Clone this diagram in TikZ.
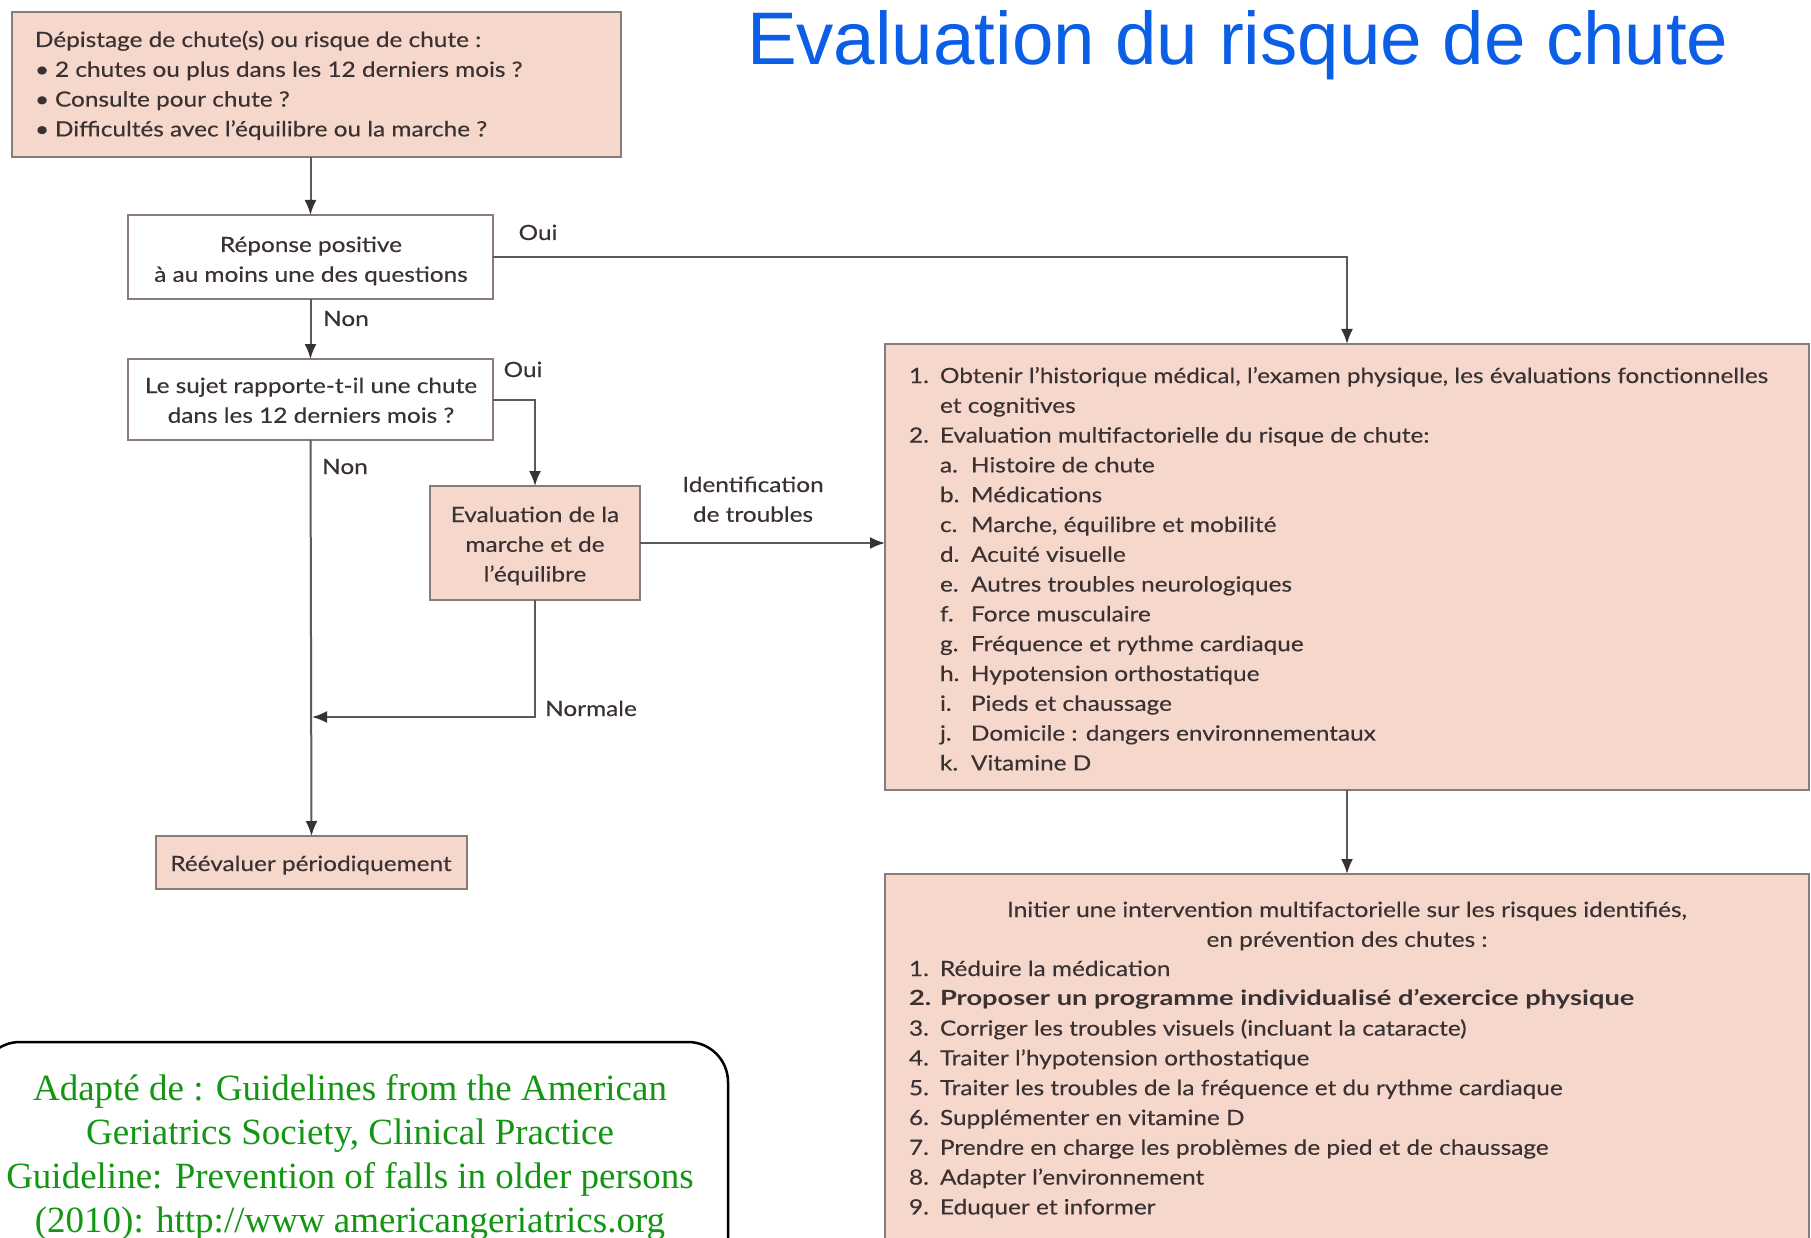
\documentclass[tikz,border=0pt]{standalone}
\usepackage{fontspec}
\setmainfont{Lato}
\newfontfamily\titlefont{Liberation Sans}
\newfontfamily\reffont{Liberation Serif}
\newfontfamily\boxfont[FakeStretch=1.16,FakeBold=0.3]{Lato}
\newfontfamily\boxboldfont[FakeStretch=1.30]{Lato}
\usetikzlibrary{arrows.meta}
\definecolor{boxfill}{HTML}{F6D7CC}
\definecolor{boxdraw}{HTML}{8A7B79}
\definecolor{txtc}{HTML}{3A3232}
\definecolor{linec}{HTML}{5A5A5A}
\definecolor{titleblue}{HTML}{0A5FE6}
\definecolor{refgreen}{HTML}{149614}
\newcommand{\lab}[2]{\makebox[#1pt][l]{#2}}
\begin{document}
\begin{tikzpicture}[x=1pt,y=-1pt,
  every node/.style={inner sep=0pt, outer sep=0pt},
  pbox/.style={draw=boxdraw, line width=2.5pt, fill=boxfill, rectangle},
  wbox/.style={draw=boxdraw, line width=2.5pt, fill=white, rectangle},
  btxt/.style={font=\boxfont\fontsize{21}{29.8}\selectfont, text=txtc},
  lbl/.style={font=\boxfont\fontsize{21}{29.8}\selectfont, text=txtc, anchor=base},
  arr/.style={draw=linec, line width=2pt, -{Latex[length=15pt,width=12pt,color=txtc]}},
  conn/.style={draw=linec, line width=2pt}]
\useasboundingbox (0,0) rectangle (1811,1238);
\clip (0,0) rectangle (1811,1238);
\fill[white] (0,0) rectangle (1811,1238);

% title
\node[font=\titlefont\fontsize{74.5}{80}\selectfont, text=titleblue, anchor=base west] (title) at (747,65) {Evaluation du risque de chute};

% boxes
\node[pbox, minimum width=609pt, minimum height=145pt] (b1) at (316.5,84.5) {};
\node[wbox, minimum width=365pt, minimum height=84pt] (b2) at (310.5,257) {};
\node[wbox, minimum width=365pt, minimum height=81pt] (b3) at (310.5,399.5) {};
\node[pbox, minimum width=210pt, minimum height=114pt] (ev) at (535,543) {};
\node[pbox, minimum width=311pt, minimum height=53pt] (re) at (311.5,862.5) {};
\node[pbox, minimum width=924pt, minimum height=446pt] (b4) at (1347,567) {};
\node[pbox, minimum width=924pt, minimum height=380pt] (b5) at (1347,1064) {};

% texts (anchor = baseline of the last line)
\node[btxt, align=left, anchor=base west] (b1t) at (35,136.4) {%
Dépistage de chute(s) ou risque de chute :\\
\lab{20}{•}2 chutes ou plus dans les 12 derniers mois ?\\
\lab{20}{•}Consulte pour chute ?\\
\lab{20}{•}Difficultés avec l’équilibre ou la marche ?};
\node[btxt, align=center, anchor=base] (b2t) at (311,281.8) {Réponse positive\\à au moins une des questions};
\node[btxt, align=center, anchor=base] (b3t) at (311,422.8) {Le sujet rapporte-t-il une chute\\dans les 12 derniers mois ?};
\node[btxt, align=center, anchor=base] (evt) at (535,581.6) {Evaluation de la\\marche et de\\l’équilibre};
\node[btxt, anchor=base] (ret) at (311,871) {Réévaluer périodiquement};
\node[btxt, align=center, anchor=base] (idt) at (753,521.8) {Identification\\de troubles};

\node[btxt, align=left, anchor=base west] (b4t) at (909,770.4) {%
\lab{31}{1.}Obtenir l’historique médical, l’examen physique, les évaluations fonctionnelles\\
\lab{31}{}et cognitives\\
\lab{31}{2.}Evaluation multifactorielle du risque de chute:\\
\lab{31}{}\lab{31}{a.}Histoire de chute\\
\lab{31}{}\lab{31}{b.}Médications\\
\lab{31}{}\lab{31}{c.}Marche, équilibre et mobilité\\
\lab{31}{}\lab{31}{d.}Acuité visuelle\\
\lab{31}{}\lab{31}{e.}Autres troubles neurologiques\\
\lab{31}{}\lab{31}{f.}Force musculaire\\
\lab{31}{}\lab{31}{g.}Fréquence et rythme cardiaque\\
\lab{31}{}\lab{31}{h.}Hypotension orthostatique\\
\lab{31}{}\lab{31}{i.}Pieds et chaussage\\
\lab{31}{}\lab{31}{j.}Domicile : dangers environnementaux\\
\lab{31}{}\lab{31}{k.}Vitamine D};

\node[btxt, align=center, anchor=base] (b5h) at (1347,946.8) {Initier une intervention multifactorielle sur les risques identifiés,\\en prévention des chutes :};
\node[btxt, align=left, anchor=base west] (b5t) at (909,1214.4) {%
\lab{31}{1.}Réduire la médication\\
{\boxboldfont\bfseries\lab{31}{2.}Proposer un programme individualisé d’exercice physique}\\
\lab{31}{3.}Corriger les troubles visuels (incluant la cataracte)\\
\lab{31}{4.}Traiter l’hypotension orthostatique\\
\lab{31}{5.}Traiter les troubles de la fréquence et du rythme cardiaque\\
\lab{31}{6.}Supplémenter en vitamine D\\
\lab{31}{7.}Prendre en charge les problèmes de pied et de chaussage\\
\lab{31}{8.}Adapter l’environnement\\
\lab{31}{9.}Eduquer et informer};

% labels
\node[lbl] (oui1) at (538,240) {Oui};
\node[lbl] (non1) at (346,326) {Non};
\node[lbl] (oui2) at (523,377) {Oui};
\node[lbl] (non2) at (345,474) {Non};
\node[lbl] (norm) at (591,716) {Normale};

% connectors
\coordinate (j) at (312,717);
\draw[arr] (b1.south -| b2.north) -- (b2.north);
\draw[arr] (b2.east) -| (b4.north);
\draw[arr] (b2.south) -- (b3.north);
\draw[arr] (b3.east) -| (ev.north);
\draw[arr] (ev.east) -- (ev.east -| b4.west);
\draw[arr] (ev.south) |- (j);
\draw[arr] (b3.south) -- (re.north);
\draw[arr] (b4.south) -- (b5.north);

% reference box
\draw[line width=2.5pt, rounded corners=40pt] (-20,1300) -- (-20,1042) -- (728,1042) -- (728,1300);
\node[font=\reffont\fontsize{37}{44}\selectfont, text=refgreen, align=center, anchor=base] (reft) at (350,1232) {Adapté de : Guidelines from the American\\Geriatrics Society, Clinical Practice\\Guideline: Prevention of falls in older persons\\(2010): http://www americangeriatrics.org};
\end{tikzpicture}
\end{document}
